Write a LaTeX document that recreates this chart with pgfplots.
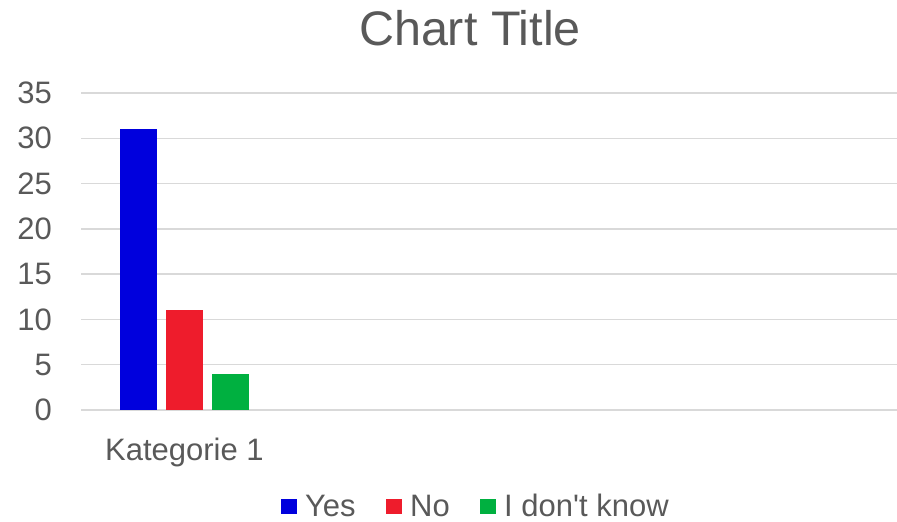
\documentclass[border=0pt]{standalone}
\usepackage{pgfplots}
\pgfplotsset{compat=1.18}
\usepackage{fontspec}
\setmainfont{Liberation Sans}
\definecolor{cblue}{HTML}{0000DD}
\definecolor{cred}{HTML}{EE1C2C}
\definecolor{cgreen}{HTML}{00B040}
\definecolor{ctext}{HTML}{595959}
\definecolor{cgrid}{HTML}{D9D9D9}
\pgfplotsset{sqleg/.style={legend image code/.code={\fill[##1] (0pt,-7.5pt) rectangle (16pt,7.5pt);}}}
\begin{document}
\begin{tikzpicture}[x=1pt,y=1pt]
\path[use as bounding box] (0,0) rectangle (897,-522);
\begin{axis}[
  at={(81pt,-410pt)}, anchor=south west,
  scale only axis, width=816pt, height=317pt,
  xmin=0.493, xmax=4.493, ymin=0, ymax=35,
  ytick={0,5,...,35}, xtick={1}, xticklabels={Kategorie 1},
  /pgf/number format/assume math mode=true,
  ymajorgrids, grid style={cgrid, line width=1.5pt},
  axis line style={draw=none}, major tick length=0pt, tick style={draw=none},
  tick label style={font=\fontsize{31}{37}\selectfont, text=ctext},
  yticklabel style={anchor=east, inner sep=0pt, xshift=-29pt},
  xticklabel style={anchor=base, inner sep=0pt, yshift=-50pt},
  title={Chart Title},
  every axis title shift=0pt,
  title style={font=\fontsize{48.5}{58}\selectfont, text=ctext, at={(axis description cs:0.4767,1.1505)}, anchor=base, inner sep=0pt},
  ybar=9pt, bar width=37pt,
  legend columns=3,
  legend style={draw=none, fill=none, at={(axis description cs:0.4827,-0.304)}, anchor=center, inner sep=0pt,
    font=\fontsize{31}{37}\selectfont, text=ctext, nodes={inner sep=0pt},
    /tikz/every odd column/.append style={column sep=8pt},
    /tikz/every even column/.append style={column sep=30.5pt}},
]
\addplot[fill=cblue, draw=none, sqleg] coordinates {(1,31)};
\addlegendentry{Yes}
\addplot[fill=cred, draw=none, sqleg] coordinates {(1,11)};
\addlegendentry{No}
\addplot[fill=cgreen, draw=none, sqleg] coordinates {(1,4)};
\addlegendentry{I don\textquotesingle t know}
\end{axis}
\end{tikzpicture}
\end{document}
